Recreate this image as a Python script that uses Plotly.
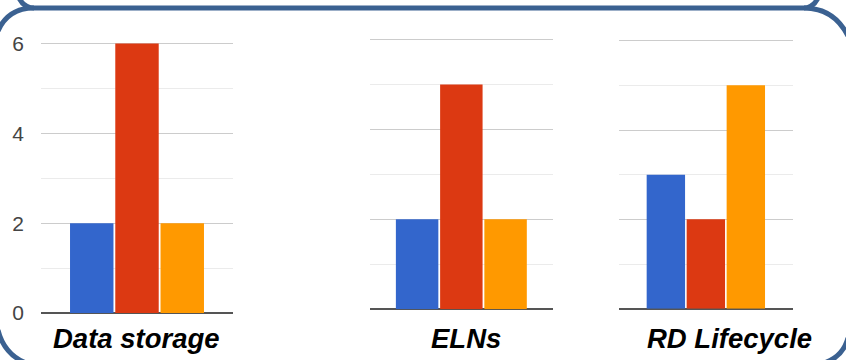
import plotly.graph_objects as go

W, H = 846, 360

categories = ["Data storage", "ELNs", "RD Lifecycle"]
series_names = ["Series A", "Series B", "Series C"]
blue_vals = [2, 2, 3]
red_vals = [6, 5, 2]
orange_vals = [2, 2, 5]
y_tick_vals = [0, 2, 4, 6]
y_tick_text = ["0", "2", "4", "6"]

colors = ["#3366cc", "#dc3912", "#ff9900"]
series = [blue_vals, red_vals, orange_vals]

# pixel layout of each sub-chart: (x_left, x_right, y_top(value 6), y_bottom(value 0), x-span, label xshift)
panels = [
    (41, 233, 43.5, 313, 1.004, -1),
    (370, 552.7, 39.5, 309.3, 0.9775, 4.5),
    (619, 792.7, 40.7, 308.7, 1.028, 24),
]
YMAX = 6
EXTRA = 0.05  # headroom so the top gridline is drawn inside the plot area

fig = go.Figure()
FONT = "Liberation Sans, Arial, sans-serif"

for i, cat in enumerate(categories):
    ax = "" if i == 0 else str(i + 1)
    for s, (vals, col, nm) in enumerate(zip(series, colors, series_names)):
        fig.add_trace(go.Bar(
            x=[cat], y=[vals[i]], name=nm, marker=dict(color=col, line=dict(width=0)),
            xaxis="x" + ax, yaxis="y" + ax, showlegend=False,
        ))
    xl, xr, yt, yb, span, xs = panels[i]
    unit = (yb - yt) / YMAX
    ytop = yt - EXTRA * unit
    fig.layout["xaxis" + ax] = dict(
        domain=[xl / W, xr / W], anchor="y" + ax, showticklabels=False,
        showgrid=False, zeroline=False, showline=False, ticks="",
        range=[-span / 2, span / 2], automargin=False, fixedrange=True,
    )
    fig.layout["yaxis" + ax] = dict(
        domain=[1 - yb / H, 1 - ytop / H], anchor="x" + ax, range=[0, YMAX + EXTRA],
        tickvals=y_tick_vals, ticktext=y_tick_text, showticklabels=(i == 0),
        tickfont=dict(family=FONT, size=21, color="#444444"),
        ticks="", ticklabelstandoff=16,
        showgrid=True, gridcolor="#cccccc", gridwidth=1,
        minor=dict(dtick=1, showgrid=True, gridcolor="#ebebeb", gridwidth=1),
        zeroline=True, zerolinecolor="#555555", zerolinewidth=2,
        showline=False, automargin=False, fixedrange=True,
    )
    fig.add_annotation(
        x=cat, xref="x" + ax, y=1 - 338 / H, yref="paper", text=cat,
        showarrow=False, xshift=xs, yanchor="middle", xanchor="center",
        font=dict(family=FONT, size=27.5, color="#000000", weight="bold", style="italic"),
    )

def P(x, y):
    return f"{x / W:.5f},{1 - y / H:.5f}"

frame_col = "#3b6191"
paths = [
    # top edge with left/right cusps
    f"M{P(19, -2)} Q{P(24, 8)} {P(34, 8)} L{P(804, 8)} Q{P(813, 8)} {P(818, -2)}",
    f"M{P(34, 8)} Q{P(8, 8)} {P(-2, 31)}",
    f"M{P(804, 8)} Q{P(834, 8)} {P(848, 36)}",
    f"M{P(-2, 330)} Q{P(4, 354)} {P(26, 363)}",
    f"M{P(848, 338)} Q{P(843, 357)} {P(824, 363)}",
]
for p in paths:
    fig.add_shape(type="path", path=p, xref="paper", yref="paper",
                  line=dict(color=frame_col, width=5), layer="above")

fig.update_layout(
    template="none", width=W, height=H,
    margin=dict(l=0, r=0, t=0, b=0, pad=0),
    paper_bgcolor="white", plot_bgcolor="white",
    barmode="group", bargap=0.29, bargroupgap=0.04,
    showlegend=False, font=dict(family=FONT),
)

fig.write_html("out.html")
